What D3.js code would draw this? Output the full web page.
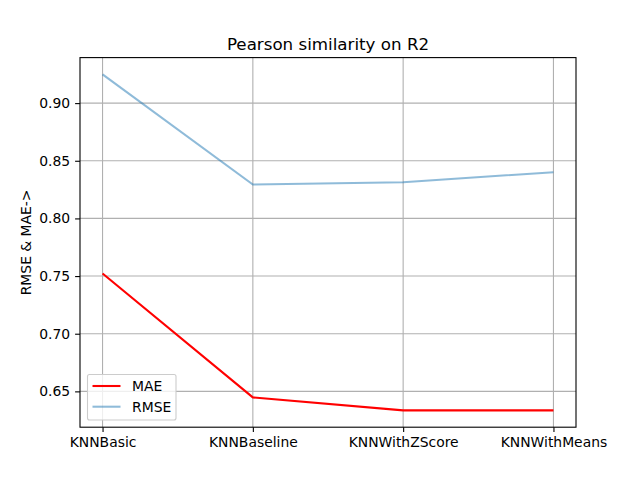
<!DOCTYPE html>
<html>
<head>
<meta charset="utf-8">
<script src="https://cdn.jsdelivr.net/npm/d3@7"></script>
<style>
  body { margin: 0; background: #fff; }
  svg { font-family: "DejaVu Sans", sans-serif; }
</style>
</head>
<body>
<svg id="chart" width="640" height="480"></svg>
<script>
var ALGOS = ["KNNBasic", "KNNBaseline", "KNNWithZScore", "KNNWithMeans"];
var MAE_VALUES = [0.7522, 0.6448, 0.6335, 0.6335];
var RMSE_VALUES = [0.9249, 0.8294, 0.8314, 0.8401];
var Y_TICKS = [0.65, 0.70, 0.75, 0.80, 0.85, 0.90];

// plot area (window.top is read-only, so avoid that name)
var ax_left = 80, ax_right = 576, ax_top = 57.6, ax_bottom = 427.2;

var svg = d3.select("#chart");

// matplotlib style 5% margins
var all_vals = MAE_VALUES.concat(RMSE_VALUES);
var ymin = d3.min(all_vals), ymax = d3.max(all_vals);
var pad = (ymax - ymin) * 0.05;

var x = d3.scaleLinear().domain([-0.15, ALGOS.length - 1 + 0.15]).range([ax_left, ax_right]);
var y = d3.scaleLinear().domain([ymin - pad, ymax + pad]).range([ax_bottom, ax_top]);

// grid
var grid = svg.append("g");
grid.selectAll("line.vg").data(ALGOS).enter().append("line")
  .attr("x1", function(d, i) { return x(i); }).attr("x2", function(d, i) { return x(i); })
  .attr("y1", ax_top).attr("y2", ax_bottom)
  .attr("stroke", "#b0b0b0").attr("stroke-width", 1.1);
grid.selectAll("line.hg").data(Y_TICKS).enter().append("line")
  .attr("x1", ax_left).attr("x2", ax_right)
  .attr("y1", function(d) { return y(d); }).attr("y2", function(d) { return y(d); })
  .attr("stroke", "#b0b0b0").attr("stroke-width", 1.1);

// axes
var xAxis = d3.axisBottom(x).tickValues(d3.range(ALGOS.length))
  .tickFormat(function(d) { return ALGOS[d]; }).tickSizeInner(4.9).tickSizeOuter(0).tickPadding(4.9);
var yAxis = d3.axisLeft(y).tickValues(Y_TICKS).tickFormat(d3.format(".2f"))
  .tickSizeInner(4.9).tickSizeOuter(0).tickPadding(4.9);

var gx = svg.append("g").attr("transform", "translate(0," + ax_bottom + ")").call(xAxis);
var gy = svg.append("g").attr("transform", "translate(" + ax_left + ",0)").call(yAxis);
[gx, gy].forEach(function(g) {
  g.select(".domain").remove();
  g.selectAll(".tick line").attr("stroke", "#000").attr("stroke-width", 1.1);
  g.selectAll(".tick text").attr("fill", "#000").style("font-size", "13.9px")
    .style("font-family", "DejaVu Sans, sans-serif");
});

// lines
var line = d3.line().x(function(d, i) { return x(i); }).y(function(d) { return y(d); });
svg.append("path").datum(MAE_VALUES).attr("d", line)
  .attr("fill", "none").attr("stroke", "red").attr("stroke-width", 2.08);
svg.append("path").datum(RMSE_VALUES).attr("d", line)
  .attr("fill", "none").attr("stroke", "#1f77b4").attr("stroke-opacity", 0.5).attr("stroke-width", 2.08);

// frame
svg.append("rect").attr("x", ax_left).attr("y", ax_top)
  .attr("width", ax_right - ax_left).attr("height", ax_bottom - ax_top)
  .attr("fill", "none").attr("stroke", "#000").attr("stroke-width", 1.1);

// title and label
svg.append("text").attr("x", (ax_left + ax_right) / 2).attr("y", ax_top - 8)
  .attr("text-anchor", "middle").style("font-size", "16.7px").text("Pearson similarity on R2");
svg.append("text").attr("transform", "translate(31," + ((ax_top + ax_bottom) / 2) + ") rotate(-90)")
  .attr("text-anchor", "middle").style("font-size", "13.9px").text("RMSE & MAE->");

// legend
var legend = svg.append("g");
legend.append("rect").attr("x", 87.5).attr("y", 374.5).attr("width", 88.5).attr("height", 45.5)
  .attr("rx", 2).attr("fill", "#fff").attr("fill-opacity", 0.8)
  .attr("stroke", "#cccccc").attr("stroke-width", 1.1);
var legend_items = [{ name: "MAE", color: "red", op: 1 }, { name: "RMSE", color: "#1f77b4", op: 0.5 }];
legend_items.forEach(function(d, i) {
  var ly = 386 + i * 20.7;
  legend.append("line").attr("x1", 92.5).attr("x2", 120.5).attr("y1", ly).attr("y2", ly)
    .attr("stroke", d.color).attr("stroke-opacity", d.op).attr("stroke-width", 2.08);
  legend.append("text").attr("x", 132).attr("y", ly + 5).style("font-size", "13.9px").text(d.name);
});
</script>
</body>
</html>
